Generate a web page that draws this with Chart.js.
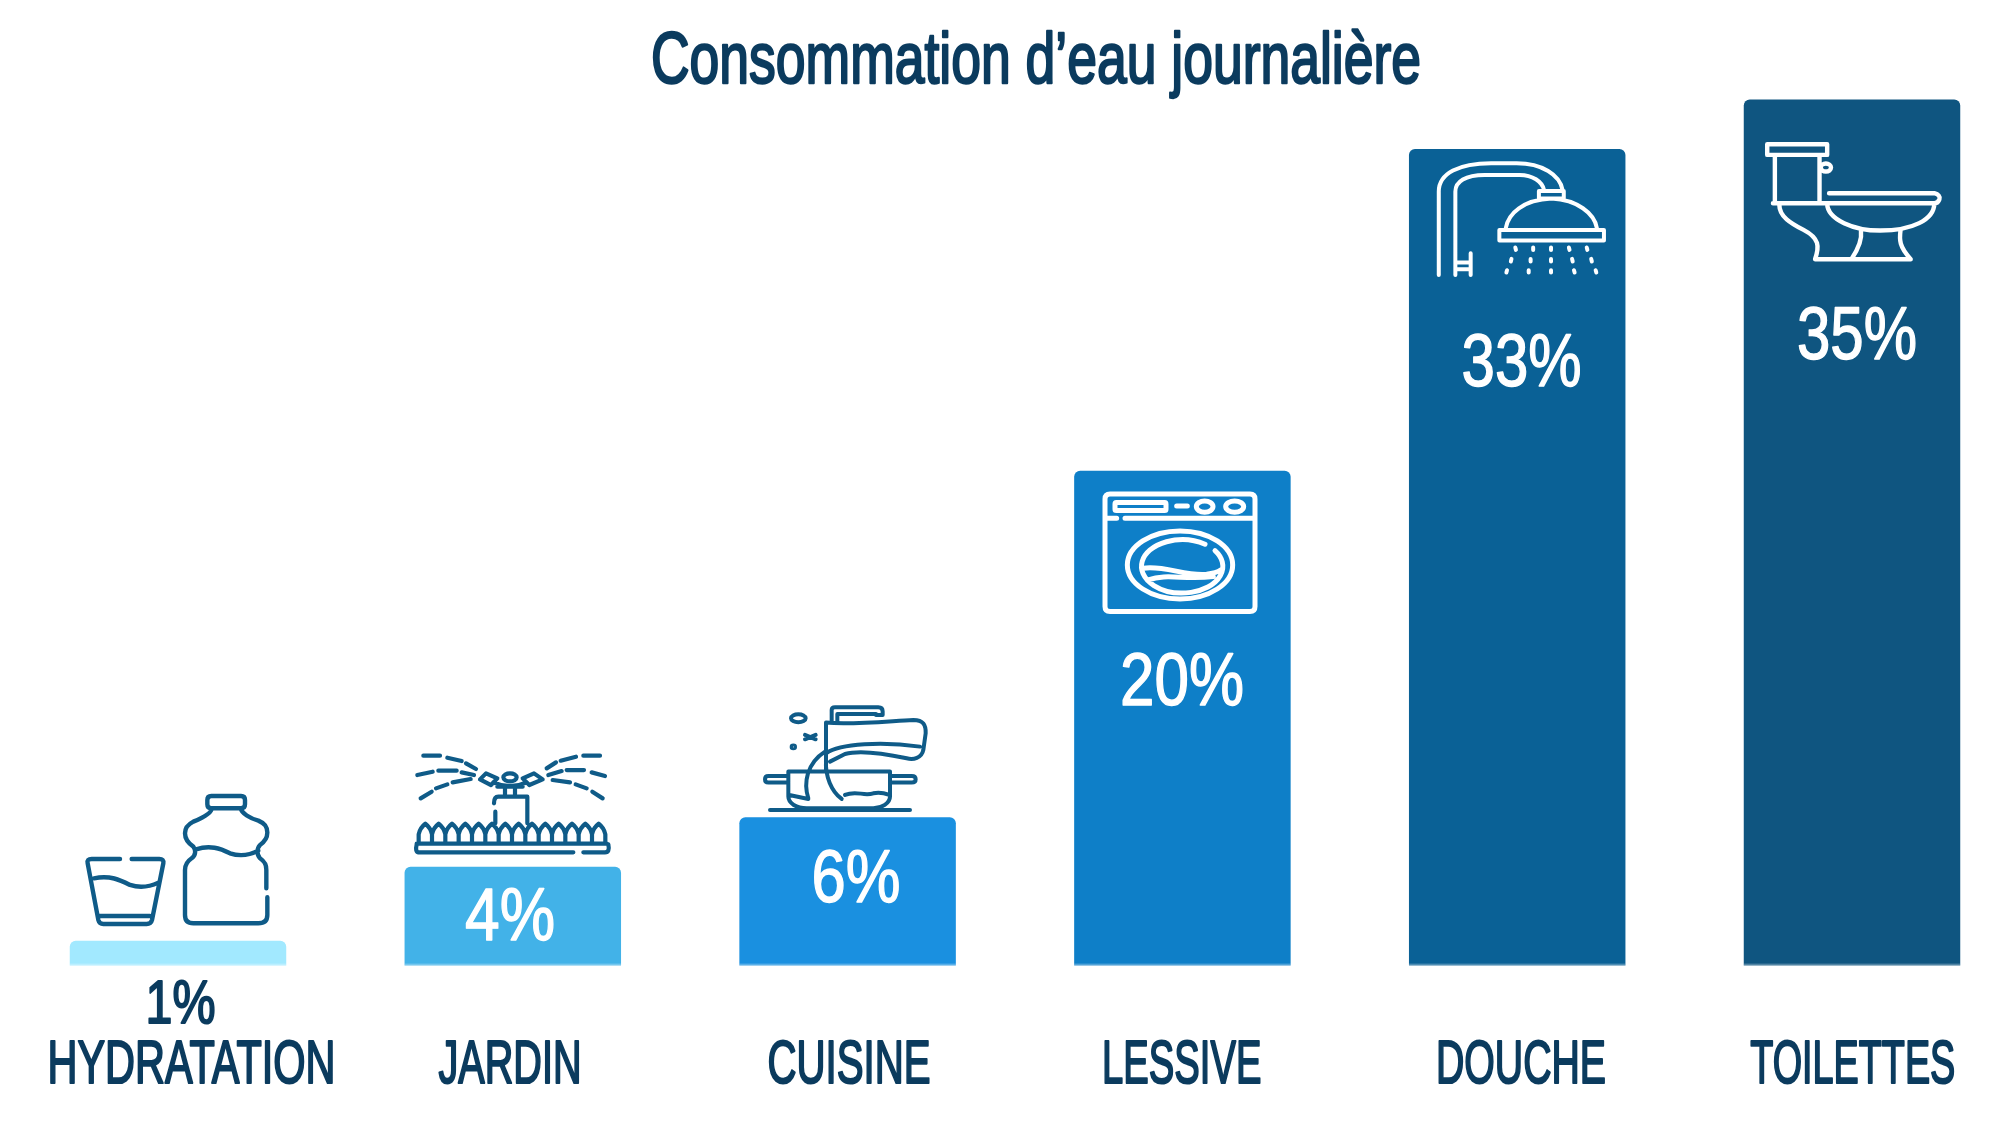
<!DOCTYPE html>
<html lang="fr"><head><meta charset="utf-8"><title>Consommation d’eau journalière</title>
<style>html,body{margin:0;padding:0;background:#fff}canvas{display:block}</style>
<script src="https://cdn.jsdelivr.net/npm/chart.js@4"></script></head><body>
<canvas id="c" width="2000" height="1125"></canvas>
<script>
const titleText = "Consommation d’eau journalière";
const categories = ["HYDRATATION","JARDIN","CUISINE","LESSIVE","DOUCHE","TOILETTES"];
const shares = [1,4,6,20,33,35];
const barColors = ["#A2E9FF","#42B2E8","#1A90E0","#0E7FC8","#0A6196","#0F5580"];

const FONT = '"Liberation Sans Narrow","Liberation Sans",sans-serif';
const DARK = "#0B3B5E", ICON = "#0F5B88";

function textFit(ctx, str, cx, base, size, width, color, stroke){
  ctx.save();
  ctx.font = `normal ${size}px ${FONT}`;
  ctx.textAlign = "center"; ctx.textBaseline = "alphabetic"; ctx.fillStyle = color;
  ctx.strokeStyle = color; ctx.lineJoin = "round";
  const m = ctx.measureText(str).width;
  ctx.translate(cx, base); ctx.scale(width/m, 1);
  ctx.fillText(str, 0, 0);
  if(stroke){ ctx.lineWidth = stroke; ctx.strokeText(str, 0, 0); }
  ctx.restore();
}
const ell=(cx,cy,rx,ry)=>`M${cx-rx} ${cy}a${rx} ${ry} 0 1 0 ${2*rx} 0a${rx} ${ry} 0 1 0 ${-2*rx} 0Z`;
const rr=(x0,y0,x1,y1,r)=>`M${x0+r} ${y0}H${x1-r}Q${x1} ${y0} ${x1} ${y0+r}V${y1-r}Q${x1} ${y1} ${x1-r} ${y1}H${x0+r}Q${x0} ${y1} ${x0} ${y1-r}V${y0+r}Q${x0} ${y0} ${x0+r} ${y0}Z`;
let blades=""; for(let k=0;k<14;k++){const x=26+k*40; blades+=`M${x} 295V268Q${x+4} 248 ${x+20} 236Q${x+36} 248 ${x+40} 268V295`;}

const iconArt = [
 {dx:-108,dy:-150.9,sx:1/3,sy:1/3,lw:4.4,color:ICON,d:
  "M150 207H65Q50 207 53 220L85 390Q88 402 100 402H230Q243 402 246 390L280 220Q282 207 268 207H185M88 378H240M72 265C120 255 150 270 180 285C210 295 240 290 265 278"+
  rr(412,18,525,55,12)+"M425 55C425 70 395 85 370 95C350 105 345 120 345 130C345 150 355 160 370 170C378 180 378 195 365 205C350 215 345 225 345 240V375Q345 400 370 400H565Q592 400 592 375V322M589 295V240C590 220 580 212 570 205C560 195 560 175 570 165C585 155 592 145 592 128C592 110 585 100 565 92C540 85 515 70 512 55M378 178C420 165 450 175 480 190C510 200 540 195 565 182"},
 {dx:-102.8,dy:-121.6,sx:1/3,sy:1/3,lw:4.2,color:ICON,d:
  "M40 32H90M112 38L155 48M168 55L198 72M22 90L68 80M85 77H140M155 82L192 90M32 160L65 140M78 130L112 118M128 112L182 102M410 70L438 52M452 47L498 35M520 32H570M415 90L455 78M470 75H522M545 82L585 93M428 105L480 112M497 118L530 130M547 140L578 160"+
  ell(300,97,20,12)+"M228 85L262 100L243 120L210 103ZM372 85L338 100L358 120L398 103ZM250 112Q300 135 350 112M262 125H338M285 130V150M315 130V150M350 155H265Q252 155 252 175M352 155V235M256 200V235"+
  blades+"M20 296H590M20 298Q15 320 25 322H490M520 322H585Q600 322 595 298"},
 {dx:-97.6,dy:-117.2,sx:1/3,sy:1/3,lw:4,color:ICON,d:
  "M245 65V30Q245 22 255 22H385Q398 22 398 35V45H378M262 65V42H378M228 68C300 75 400 65 490 60C520 60 528 75 527 100L520 150C515 175 490 180 470 175C400 160 330 150 285 162L240 185M228 68V210M228 160C270 130 400 125 510 140M175 295C160 250 170 190 225 155M228 180C225 230 245 275 275 297M115 215H420V290C420 310 395 325 370 325H170C140 325 115 310 115 290ZM115 228H55Q45 228 45 238Q45 248 55 248H115M420 228H485Q497 228 497 238Q497 248 485 248H420M60 330H480M285 285C320 270 340 290 370 280C390 275 405 280 418 285M118 285L175 297"+
  ell(145,55,22,12)+"M165 105L197 118M197 105L165 118"+ell(130,141,5,4)},
 {dx:-92.4,dy:9.2,sx:1/3,sy:1/3,lw:5,color:"#FFFFFF",d:
  rr(45,42,495,395,15)+"M45 115H80M105 115H495"+rr(75,68,228,92,4)+"M260 78H292"+ell(344,80,25,17)+ell(434,80,27,17)+ell(270,255,158,102)+"M345 193A122 80 0 1 0 375 212M160 265C220 255 290 290 350 283C370 280 385 275 392 270M175 300C230 280 280 300 370 290"},
 {dx:-517.2,dy:-69.2,sx:1/1.568,sy:1/3,lw:4,color:"#FFFFFF",d:
  "M688 585V335C688 280 720 250 770 250H810C850 250 878 285 882 330M714 585V335C714 305 730 285 760 285H815C835 285 850 305 853 330M845 333H884V356H845ZM793 445C797 400 820 360 865 356C905 360 932 400 936 445M783 450H947V482H783ZM738 520V585M714 548H738M714 568H738M808 503L809 510M836 503V510M864 503V510M892 503L893 510M920 503L921 510M802 537L801 545M832 537V545M864 537V545M897 537L898 545M927 537L928 545M795 571L794 578M829 571V578M864 571V578M900 571L901 578M934 571L935 578"},
 {dx:-852,dy:-19.7,sx:1/1.568,sy:1/3,lw:4.4,color:"#FFFFFF",d:
  "M1203 193H1297V225H1203ZM1215 225V370M1285 225V370"+ell(1295,263,8,12)+"M1300 340H1465Q1475 345 1473 358Q1471 370 1465 370H1212M1297 370C1297 420 1340 452 1380 452C1430 452 1465 420 1465 370M1222 375C1222 410 1240 430 1260 450C1285 475 1285 500 1278 538H1428C1410 500 1410 480 1412 452M1350 452C1352 480 1345 510 1335 538"}
];
const valueStyle = [
 {cx:180.5,base:1023,size:62,w:70,color:DARK,stroke:2},
 {cx:510,base:940,size:74,w:90,color:"#FFFFFF",stroke:1.4},
 {cx:856,base:902,size:74,w:89,color:"#FFFFFF",stroke:1.4},
 {cx:1182,base:705,size:74,w:124,color:"#FFFFFF",stroke:1.4},
 {cx:1521.6,base:386,size:74,w:120,color:"#FFFFFF",stroke:1.4},
 {cx:1857,base:359,size:74,w:120,color:"#FFFFFF",stroke:1.4}
];
const labelWidths = [288,143,163,159.4,170,205];
const labelShift = [13.5,-2.8,1.4,-0.7,3.8,0.8];

const decor = {
 id:"decor",
 afterDatasetsDraw(chart){
  const ctx = chart.ctx, bars = chart.getDatasetMeta(0).data, xs = chart.scales.x;
  bars.forEach((b,i)=>{
   ctx.save(); ctx.fillStyle="rgba(255,255,255,0.28)";
   ctx.fillRect(b.x-b.width/2,b.base-2,b.width,2); ctx.restore();
   const a = iconArt[i], p = new Path2D();
   p.addPath(new Path2D(a.d), new DOMMatrix([a.sx,0,0,a.sy,b.x+a.dx,b.y+a.dy]));
   ctx.save(); ctx.strokeStyle=a.color; ctx.lineWidth=a.lw; ctx.lineCap="round"; ctx.lineJoin="round"; ctx.stroke(p); ctx.restore();
   const v = valueStyle[i];
   textFit(ctx, shares[i]+"%", v.cx, v.base, v.size, v.w, v.color, v.stroke);
   textFit(ctx, xs.getLabelForValue(i), xs.getPixelForValue(i)+labelShift[i], 1083, 62, labelWidths[i], DARK, 2.2);
  });
  textFit(ctx, titleText, 1036, 83, 72, 770, DARK, 2.4);
 }
};
new Chart(document.getElementById("c"),{
 type:"bar",
 data:{labels:categories,datasets:[{label:titleText,data:shares,backgroundColor:barColors,borderRadius:{topLeft:6,topRight:6,bottomLeft:0,bottomRight:0},borderSkipped:false,categoryPercentage:1,barPercentage:0.6466,clip:false}]},
 options:{responsive:false,animation:false,devicePixelRatio:1,
  layout:{padding:{left:178,right:148,top:99.6,bottom:159.4}},
  plugins:{legend:{display:false},tooltip:{enabled:false},title:{display:false}},
  scales:{x:{display:false,offset:false},y:{display:false,min:0,max:35}}},
 plugins:[decor]
});
</script></body></html>
